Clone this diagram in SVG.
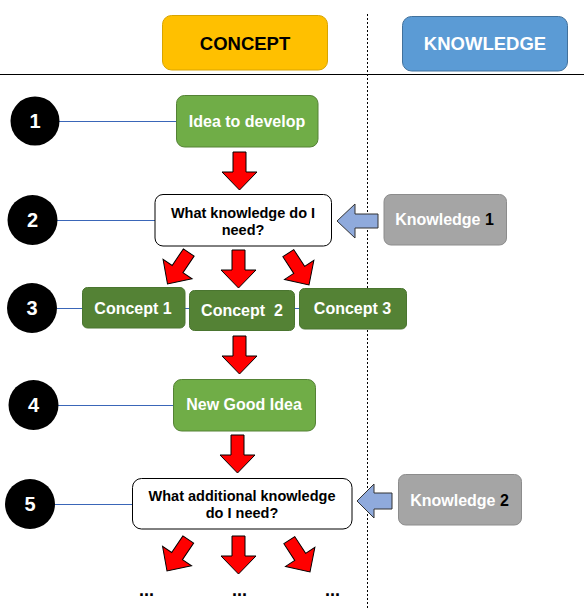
<svg xmlns="http://www.w3.org/2000/svg" xmlns:xlink="http://www.w3.org/1999/xlink" width="584" height="609" viewBox="0 0 584 609">
<style>
text{font-family:"Liberation Sans",Arial,sans-serif;font-weight:bold;text-anchor:middle}
.num{fill:#fff;font-size:20px}
.wt{fill:#fff;font-size:16px}
.bt{fill:#000;font-size:14.5px}
.hdr{font-size:18.5px}
.lnk{stroke:#3A66B8;stroke-width:1;fill:none}
.ra{fill:#FF0000;stroke:#000;stroke-width:1}
.ba{fill:#8FAADC;stroke:#333;stroke-width:1}
.g1{fill:#70AD47;stroke:#548235;stroke-width:1}
.g2{fill:#548235;stroke:#4A7530;stroke-width:1}
.q{fill:#fff;stroke:#000;stroke-width:1}
.k{fill:#A5A5A5;stroke:#8C8C8C;stroke-width:1}
</style>
<defs>
<polygon id="ra" class="ra" points="-6.5,-38 6.5,-38 6.5,-18 17.5,-18 0,0 -17.5,-18 -6.5,-18"/>
</defs>
<rect width="584" height="609" fill="#fff"/>
<g id="layout">
<line x1="0" y1="74.5" x2="584" y2="74.5" stroke="#000" stroke-width="1"/>
<line x1="367.5" y1="14" x2="367.5" y2="609" stroke="#000" stroke-width="1" stroke-dasharray="2,2"/>
</g>
<g id="connectors">
<line class="lnk" x1="58" y1="121.5" x2="176" y2="121.5"/>
<line class="lnk" x1="57" y1="220.5" x2="155" y2="220.5"/>
<line class="lnk" x1="57" y1="308.5" x2="300" y2="308.5"/>
<line class="lnk" x1="58" y1="405.5" x2="173" y2="405.5"/>
<line class="lnk" x1="55" y1="504.5" x2="132" y2="504.5"/>
<use xlink:href="#ra" transform="translate(239.5,190)"/>
<use xlink:href="#ra" transform="translate(167.5,284) rotate(34)"/>
<use xlink:href="#ra" transform="translate(238.5,288)"/>
<use xlink:href="#ra" transform="translate(309,285) rotate(-33)"/>
<use xlink:href="#ra" transform="translate(239.5,374)"/>
<use xlink:href="#ra" transform="translate(237.5,473)"/>
<use xlink:href="#ra" transform="translate(167,571) rotate(34)"/>
<use xlink:href="#ra" transform="translate(238.5,574)"/>
<use xlink:href="#ra" transform="translate(310,572) rotate(-33)"/>
<polygon class="ba" points="337,221 355,204 355,214 378,214 378,228 355,228 355,238"/>
<polygon class="ba" points="357,501 374,484 374,493 392,493 392,509 374,509 374,518"/>
</g>
<g id="hdr-concept">
<rect x="162.5" y="15.5" width="165" height="54.5" rx="9" fill="#FFC000" stroke="#D8A400"/>
<text class="hdr" x="245" y="49.5" fill="#000">CONCEPT</text>
</g>
<g id="hdr-knowledge">
<rect x="402.5" y="16.5" width="165" height="54.5" rx="9" fill="#5B9BD5" stroke="#41719C"/>
<text class="hdr" x="485" y="50" fill="#fff">KNOWLEDGE</text>
</g>
<g id="step1"><circle cx="35" cy="121" r="24.5" fill="#000"/><text class="num" x="35" y="128">1</text></g>
<g id="step2"><circle cx="32.5" cy="220" r="25" fill="#000"/><text class="num" x="32.5" y="227">2</text></g>
<g id="step3"><circle cx="32" cy="308" r="25" fill="#000"/><text class="num" x="32" y="315">3</text></g>
<g id="step4"><circle cx="33.5" cy="405" r="25" fill="#000"/><text class="num" x="33.5" y="412">4</text></g>
<g id="step5"><circle cx="30" cy="504" r="25" fill="#000"/><text class="num" x="30" y="511">5</text></g>
<g id="idea">
<rect class="g1" x="176.5" y="95.5" width="141.5" height="51.5" rx="8"/>
<text class="wt" x="247" y="126.5">Idea to develop</text>
</g>
<g id="question1">
<rect class="q" x="155" y="194.5" width="176.5" height="51.5" rx="8"/>
<text class="bt" x="243" y="218">What knowledge do I</text>
<text class="bt" x="243" y="234.5">need?</text>
</g>
<g id="knowledge1">
<rect class="k" x="384" y="194.5" width="122.5" height="50.5" rx="7"/>
<text class="wt" x="444.5" y="225"><tspan fill="#fff">Knowledge </tspan><tspan fill="#000">1</tspan></text>
</g>
<g id="concept1">
<rect class="g2" x="82.5" y="287.5" width="102.5" height="40.5" rx="5"/>
<text class="wt" x="133" y="313.5">Concept 1</text>
</g>
<g id="concept2">
<rect class="g2" x="189.5" y="290.5" width="105" height="40" rx="5"/>
<text class="wt" x="242" y="316" xml:space="preserve">Concept  2</text>
</g>
<g id="concept3">
<rect class="g2" x="299.5" y="288.5" width="107" height="40.5" rx="5"/>
<text class="wt" x="352.5" y="314">Concept 3</text>
</g>
<g id="newidea">
<rect class="g1" x="173.5" y="379.5" width="142" height="51.5" rx="8"/>
<text class="wt" x="244" y="410">New Good Idea</text>
</g>
<g id="question2">
<rect class="q" x="132.5" y="478.5" width="219.5" height="50.5" rx="9"/>
<text class="bt" x="242" y="501">What additional knowledge</text>
<text class="bt" x="242" y="518">do I need?</text>
</g>
<g id="knowledge2">
<rect class="k" x="398.5" y="474.5" width="123" height="50.5" rx="7"/>
<text class="wt" x="459.5" y="505.5"><tspan fill="#fff">Knowledge </tspan><tspan fill="#000">2</tspan></text>
</g>
<g id="more">
<text x="146.5" y="596" font-size="18" fill="#000">...</text>
<text x="239.5" y="596" font-size="18" fill="#000">...</text>
<text x="332.5" y="596" font-size="18" fill="#000">...</text>
</g>
</svg>
